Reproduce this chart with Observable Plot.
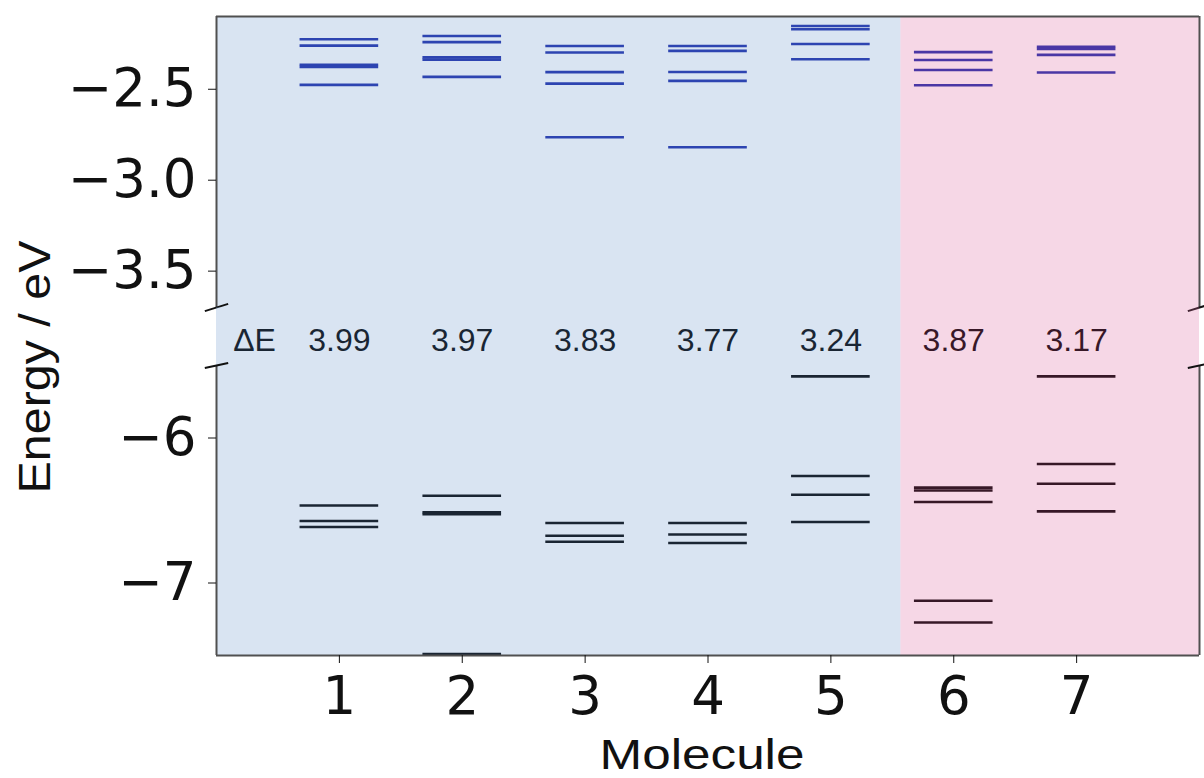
<!DOCTYPE html>
<html>
<head>
<meta charset="utf-8">
<script src="https://cdn.jsdelivr.net/npm/d3@7"></script>
<script src="https://cdn.jsdelivr.net/npm/@observablehq/plot@0.6"></script>
<style>
  body { margin: 0; background: #fff; }
  #wrap { position: relative; width: 1204px; height: 778px; overflow: hidden; }
  #wrap svg { display: block; }
  #ylab {
    position: absolute; left: 35px; top: 367px;
    transform: translate(-50%, -50%) rotate(-90deg) scaleX(1.1);
    font: 44px "Liberation Sans", Arial, sans-serif; color: #111; white-space: nowrap;
  }
</style>
</head>
<body>
<div id="wrap"><div id="ylab">Energy / eV</div></div>
<script>
// ---------- data ----------
const molecules = [1, 2, 3, 4, 5, 6, 7];

// LUMO-side levels (upper panel), eV
const lumoLevels = [
  [-2.225, -2.260, -2.365, -2.378, -2.476],
  [-2.207, -2.241, -2.325, -2.337, -2.432],
  [-2.262, -2.298, -2.406, -2.469, -2.764],
  [-2.262, -2.289, -2.405, -2.454, -2.819],
  [-2.152, -2.170, -2.251, -2.335],
  [-2.296, -2.339, -2.394, -2.478],
  [-2.266, -2.279, -2.311, -2.408]
];

// HOMO-side levels (lower panel), eV
const homoLevels = [
  [-6.466, -6.572, -6.614],
  [-6.398, -6.512, -6.525, -7.490],
  [-6.586, -6.674, -6.715],
  [-6.586, -6.665, -6.724],
  [-5.575, -6.262, -6.391, -6.579],
  [-6.342, -6.362, -6.441, -7.122, -7.272],
  [-5.575, -6.179, -6.315, -6.506]
];

// gap labels
const gapValues = [3.99, 3.97, 3.83, 3.77, 3.24, 3.87, 3.17];
const gapTitle = "ΔE";

// shaded groups along x (molecule axis)
const groupStart = [0, 5.57];
const groupEnd = [5.57, 8];

// axis ticks & limits
const xDomain = [0, 8];
const topDomain = [-3.7, -2.1];
const bottomDomain = [-7.5, -5.5];
const topTicks = [-2.5, -3.0, -3.5];
const bottomTicks = [-6, -7];
const xLabel = "Molecule";

// ---------- tables ----------
const lumoRows = molecules.flatMap((m, i) => lumoLevels[i].map(e => ({m, e})));
const homoRows = molecules.flatMap((m, i) => homoLevels[i].map(e => ({m, e})));
const gapRows = molecules.map((m, i) => ({m, g: gapValues[i]}));
const groups = groupStart.map((x1, i) => ({x1, x2: groupEnd[i], k: i}));

// ---------- styling ----------
const W = 1204, ML = 216, MR = 5;
const HALF = 0.32;
const FRAME = "#505050";
const shadeColors = ["#6894cc", "#dc609c"];
const shadeOpacity = 0.25;
const LABEL_FONT = "'Liberation Sans', Arial, sans-serif";
const svgStyle = {fontFamily: "'DejaVu Sans', sans-serif", fontSize: "53px", color: "#111", background: "#fff", overflow: "visible"};

const shade = () => [0, 1].map(k => Plot.rect(groups.filter(d => d.k === k), {
  x1: "x1", x2: "x2", fill: shadeColors[k], fillOpacity: shadeOpacity
}));

const levels = (rows, color) => Plot.ruleY(rows, {
  y: "e", x1: d => d.m - HALF, x2: d => d.m + HALF,
  stroke: color, strokeWidth: 2.6
});

const breakMarks = (yEdge, dyUnits) => Plot.link(
  xDomain.map(x => ({x})),
  {x1: d => d.x - 0.095, x2: d => d.x + 0.095,
   y1: () => yEdge - dyUnits, y2: () => yEdge + dyUnits,
   stroke: "#111", strokeWidth: 2, clip: false}
);

// ---------- top panel ----------
const topPanel = Plot.plot({
  width: W, height: 307,
  marginLeft: ML, marginRight: MR, marginTop: 16, marginBottom: 0,
  style: svgStyle,
  x: {domain: xDomain, axis: null},
  y: {domain: topDomain},
  marks: [
    levels(lumoRows, "#1a2aa8"),
    ...shade(),
    Plot.ruleX(xDomain, {stroke: FRAME, strokeWidth: 2}),
    Plot.ruleY([topDomain[1]], {stroke: FRAME, strokeWidth: 2}),
    breakMarks(topDomain[0], 0.02),
    Plot.axisY({ticks: topTicks, tickFormat: d3.format(".1f"), tickSize: 8, tickPadding: 12, label: null})
  ]
});

// ---------- middle band (gap labels) ----------
const middlePanel = Plot.plot({
  width: W, height: 58,
  marginLeft: ML, marginRight: MR, marginTop: 0, marginBottom: 0,
  style: svgStyle,
  x: {domain: xDomain, axis: null},
  y: {domain: [0, 1], axis: null},
  marks: [
    Plot.text(gapRows, {x: "m", y: () => 0.43, text: d => d3.format(".2f")(d.g),
      fill: "#000", fontSize: 32, fontFamily: LABEL_FONT}),
    Plot.text([gapTitle], {x: () => 0.31, y: () => 0.43, text: d => d,
      fill: "#000", fontSize: 32, fontFamily: LABEL_FONT}),
    ...shade()
  ]
});

// ---------- bottom panel ----------
const bottomPanel = Plot.plot({
  width: W, height: 413,
  marginLeft: ML, marginRight: MR, marginTop: 0, marginBottom: 123,
  style: svgStyle,
  x: {domain: xDomain},
  y: {domain: bottomDomain},
  marks: [
    levels(homoRows, "#000"),
    ...shade(),
    Plot.ruleX(xDomain, {stroke: FRAME, strokeWidth: 2}),
    Plot.ruleY([bottomDomain[0]], {stroke: FRAME, strokeWidth: 2}),
    breakMarks(bottomDomain[1], 0.017),
    Plot.axisY({ticks: bottomTicks, tickFormat: d3.format("d"), tickSize: 8, tickPadding: 12, label: null}),
    Plot.axisX({ticks: molecules, tickFormat: d3.format("d"), tickSize: 8, tickPadding: 13, label: null}),
    Plot.text([xLabel], {frameAnchor: "bottom", lineAnchor: "bottom", dy: 113, dx: -6, text: d => d,
      fontSize: 43, fontFamily: LABEL_FONT, fill: "#111"})
  ]
});

// stretch the x-axis title a little to match the reference's wide lettering
d3.select(bottomPanel).selectAll("text")
  .filter(function () { return this.textContent === xLabel; })
  .attr("textLength", 205).attr("lengthAdjust", "spacingAndGlyphs");

const wrap = document.getElementById("wrap");
wrap.insertBefore(bottomPanel, wrap.firstChild);
wrap.insertBefore(middlePanel, wrap.firstChild);
wrap.insertBefore(topPanel, wrap.firstChild);
</script>
</body>
</html>
